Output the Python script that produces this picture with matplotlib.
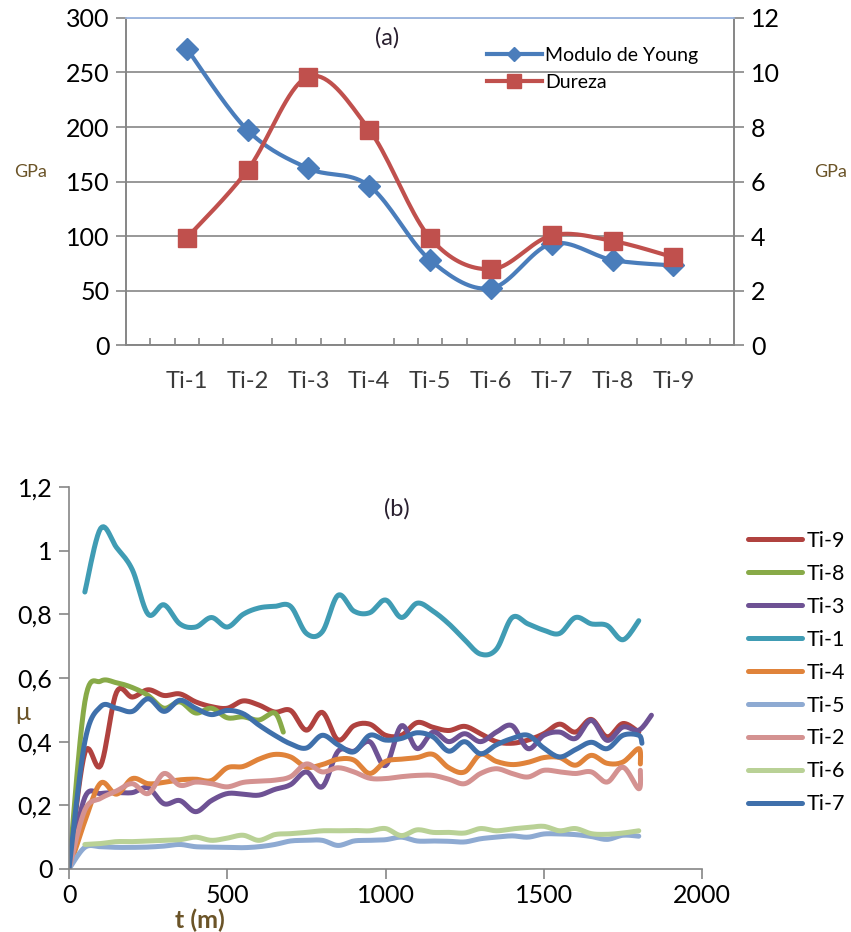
import matplotlib
matplotlib.use('Agg')
import matplotlib.pyplot as plt
import numpy as np

plt.rcParams['font.family'] = ['Lato', 'DejaVu Sans']

# --- (a) elastic modulus and hardness per sample ---
samples = ['Ti-1', 'Ti-2', 'Ti-3', 'Ti-4', 'Ti-5', 'Ti-6', 'Ti-7', 'Ti-8', 'Ti-9']
young = [272, 197, 162, 146, 78, 52, 93, 78, 73]
dureza = [3.93, 6.42, 9.85, 7.9, 3.93, 2.78, 4.02, 3.82, 3.22]

# --- (b) friction coefficient vs time ---
t_std = [0, 50, 100, 150, 200, 250, 300, 350, 400, 450, 500, 550, 600, 650, 700,
         750, 800, 850, 900, 950, 1000, 1050, 1100, 1150, 1200, 1250, 1300, 1350,
         1400, 1450, 1500, 1550, 1600, 1650, 1700, 1750, 1800]

mu_ti9 = [0, 0.365, 0.325, 0.555, 0.54, 0.563, 0.545, 0.55, 0.525, 0.51, 0.505,
          0.528, 0.515, 0.493, 0.498, 0.436, 0.492, 0.405, 0.45, 0.455, 0.42,
          0.42, 0.46, 0.445, 0.435, 0.448, 0.425, 0.40, 0.395, 0.405, 0.425,
          0.455, 0.43, 0.47, 0.415, 0.457, 0.43]

t_ti8 = [0, 50, 100, 150, 200, 250, 300, 350, 400, 450, 500, 550, 600, 650, 677]
mu_ti8 = [0, 0.525, 0.59, 0.585, 0.57, 0.545, 0.505, 0.525, 0.49, 0.505, 0.475,
          0.478, 0.468, 0.49, 0.43]

t_ti3 = t_std + [1840]
mu_ti3 = [0, 0.225, 0.237, 0.24, 0.24, 0.255, 0.205, 0.215, 0.18, 0.215, 0.237,
          0.235, 0.232, 0.25, 0.265, 0.305, 0.258, 0.37, 0.37, 0.40, 0.325,
          0.45, 0.378, 0.43, 0.40, 0.425, 0.40, 0.43, 0.45, 0.378, 0.42, 0.43,
          0.41, 0.467, 0.404, 0.446, 0.436, 0.483]

t_ti1 = t_std[1:]
mu_ti1 = [0.87, 1.07, 1.01, 0.94, 0.80, 0.83, 0.77, 0.76, 0.79, 0.76, 0.80,
          0.82, 0.825, 0.825, 0.74, 0.745, 0.86, 0.81, 0.805, 0.845, 0.79,
          0.835, 0.81, 0.77, 0.72, 0.675, 0.69, 0.79, 0.77, 0.75, 0.74, 0.79,
          0.77, 0.765, 0.72, 0.78]

t_ti4 = t_std + [1805]
mu_ti4 = [0, 0.15, 0.27, 0.235, 0.284, 0.268, 0.272, 0.28, 0.282, 0.278, 0.318,
          0.322, 0.345, 0.36, 0.352, 0.32, 0.328, 0.345, 0.342, 0.30, 0.338,
          0.345, 0.35, 0.36, 0.318, 0.305, 0.36, 0.338, 0.328, 0.335, 0.35,
          0.35, 0.326, 0.357, 0.332, 0.336, 0.378, 0.33]

mu_ti5 = [0, 0.068, 0.07, 0.068, 0.068, 0.069, 0.072, 0.077, 0.07, 0.069, 0.068,
          0.067, 0.07, 0.077, 0.088, 0.09, 0.09, 0.074, 0.088, 0.09, 0.092,
          0.10, 0.088, 0.088, 0.087, 0.085, 0.095, 0.10, 0.104, 0.10, 0.11,
          0.11, 0.108, 0.102, 0.093, 0.106, 0.103]

t_ti2 = t_std + [1805]
mu_ti2 = [0, 0.185, 0.222, 0.245, 0.268, 0.237, 0.30, 0.263, 0.273, 0.268, 0.258,
          0.272, 0.276, 0.279, 0.29, 0.33, 0.305, 0.318, 0.305, 0.285, 0.284,
          0.29, 0.294, 0.294, 0.282, 0.268, 0.30, 0.315, 0.30, 0.289, 0.31,
          0.305, 0.30, 0.305, 0.273, 0.32, 0.252, 0.31]

t_ti6 = t_std[1:]
mu_ti6 = [0.077, 0.08, 0.086, 0.086, 0.088, 0.09, 0.092, 0.10, 0.09, 0.097,
          0.106, 0.09, 0.108, 0.111, 0.115, 0.12, 0.12, 0.121, 0.12, 0.127,
          0.105, 0.123, 0.115, 0.115, 0.113, 0.127, 0.12, 0.126, 0.13, 0.134,
          0.12, 0.127, 0.111, 0.109, 0.113, 0.12]

t_ti7 = t_std + [1810]
mu_ti7 = [0, 0.40, 0.51, 0.505, 0.495, 0.535, 0.495, 0.53, 0.505, 0.485, 0.498,
          0.488, 0.452, 0.42, 0.393, 0.38, 0.42, 0.39, 0.368, 0.42, 0.405,
          0.41, 0.428, 0.415, 0.37, 0.40, 0.362, 0.39, 0.41, 0.42, 0.38, 0.352,
          0.375, 0.398, 0.378, 0.42, 0.42, 0.395]

series_b = [
    ('Ti-9', t_std, mu_ti9, '#b0423f'),
    ('Ti-8', t_ti8, mu_ti8, '#88aa48'),
    ('Ti-3', t_ti3, mu_ti3, '#6e5294'),
    ('Ti-1', t_ti1, mu_ti1, '#409cb4'),
    ('Ti-4', t_ti4, mu_ti4, '#e0833a'),
    ('Ti-5', t_std, mu_ti5, '#8eaad2'),
    ('Ti-2', t_ti2, mu_ti2, '#d49291'),
    ('Ti-6', t_ti6, mu_ti6, '#b9d196'),
    ('Ti-7', t_ti7, mu_ti7, '#3f70ab'),
]


def smooth(x, y, n=20):
    # bezier smoothing through the points (like spreadsheet "smoothed line")
    x = np.asarray(x, float)
    y = np.asarray(y, float)
    px = np.concatenate([[x[0]], x, [x[-1]]])
    py = np.concatenate([[y[0]], y, [y[-1]]])
    xs, ys = [x[0]], [y[0]]
    s = np.linspace(0, 1, n)[1:]
    for i in range(1, len(px) - 2):
        x0, x1, x2, x3 = px[i - 1], px[i], px[i + 1], px[i + 2]
        y0, y1, y2, y3 = py[i - 1], py[i], py[i + 1], py[i + 2]
        c1x, c1y = x1 + (x2 - x0) / 6, y1 + (y2 - y0) / 6
        c2x, c2y = x2 - (x3 - x1) / 6, y2 - (y3 - y1) / 6
        bx = (1 - s) ** 3 * x1 + 3 * (1 - s) ** 2 * s * c1x + 3 * (1 - s) * s ** 2 * c2x + s ** 3 * x2
        by = (1 - s) ** 3 * y1 + 3 * (1 - s) ** 2 * s * c1y + 3 * (1 - s) * s ** 2 * c2y + s ** 3 * y2
        xs.extend(bx)
        ys.extend(by)
    return np.array(xs), np.array(ys)


fig = plt.figure(figsize=(8.51, 9.32), dpi=100)
grey = '#868686'
label_col = '#6b5428'

# ---------------- (a) ----------------
ax = fig.add_axes([0.148, 0.6298, 0.7147, 0.3509])
ax2 = ax.twinx()
xpos = np.arange(1, len(samples) + 1)

ax.set_xlim(0, 10)
ax.set_ylim(0, 300)
ax2.set_ylim(0, 12)
ax.set_yticks(range(0, 301, 50))
ax2.set_yticks(range(0, 13, 2))
ax.yaxis.grid(True, color=grey, lw=1.2)
ax.set_axisbelow(True)

for a in (ax, ax2):
    for s in a.spines.values():
        s.set_color(grey)
        s.set_linewidth(1.2)
    a.spines['top'].set_color('#9fb8e0')
ax.tick_params(axis='y', length=7, width=1.2, color=grey, labelsize=18, pad=5)
ax2.tick_params(axis='y', length=7, width=1.2, color=grey, labelsize=18, pad=5)
ax.set_xticks(xpos)
ax.set_xticklabels(samples, fontsize=17, color='#3a3a3a')
ax.set_xticks(np.arange(0.4, 10.0, 0.4), minor=True)
ax.tick_params(axis='x', which='major', length=0, pad=19)
ax.tick_params(axis='x', which='minor', direction='in', length=5, width=1.2, color=grey)

xs, ys = smooth(xpos, young)
ax.plot(xs, ys, color='#4a7dbb', lw=3, solid_capstyle='round')
ax.plot(xpos, young, ls='none', marker='D', ms=11, color='#4a7dbb')
xs, ys = smooth(xpos, dureza)
ax2.plot(xs, ys, color='#c0504d', lw=3, solid_capstyle='round')
ax2.plot(xpos, dureza, ls='none', marker='s', ms=13, color='#c0504d')

h1 = plt.Line2D([], [], color='#4a7dbb', lw=3, marker='D', ms=7)
h2 = plt.Line2D([], [], color='#c0504d', lw=3, marker='s', ms=10)
ax2.legend([h1, h2], ['Modulo de Young', 'Dureza'], loc='upper left',
           bbox_to_anchor=(0.581, 0.935), frameon=False, fontsize=14,
           handlelength=2.8, handletextpad=0.2, labelspacing=0.5, borderaxespad=0)

ax.text(4.3, 282, '(a)', fontsize=17, color='#2a2030', ha='center', va='center')
fig.text(31 / 851, 1 - 172 / 932, 'GPa', fontsize=13, color=label_col, ha='center', va='center')
fig.text(831 / 851, 1 - 172 / 932, 'GPa', fontsize=13, color=label_col, ha='center', va='center')

# ---------------- (b) ----------------
bx = fig.add_axes([0.0811, 0.0676, 0.7439, 0.4099])
for name, t, mu, col in series_b:
    xs, ys = smooth(t, mu, 12)
    bx.plot(xs, ys, color=col, lw=3.6, label=name, solid_capstyle='round')

bx.set_xlim(0, 2000)
bx.set_ylim(0, 1.2)
bx.set_xticks([0, 500, 1000, 1500, 2000])
yt = [0, 0.2, 0.4, 0.6, 0.8, 1.0, 1.2]
bx.set_yticks(yt)
bx.set_yticklabels(['0', '0,2', '0,4', '0,6', '0,8', '1', '1,2'])
for side in ('top', 'right'):
    bx.spines[side].set_visible(False)
for side in ('left', 'bottom'):
    bx.spines[side].set_color(grey)
    bx.spines[side].set_linewidth(1.2)
bx.tick_params(length=7, width=1.2, color=grey, labelsize=18)
bx.tick_params(axis='x', pad=4)
bx.tick_params(axis='y', pad=5)

bx.text(1035, 1.13, '(b)', fontsize=17, color='#2a2030', ha='center', va='center')
fig.text(23 / 851, 1 - 712 / 932, 'μ', fontsize=18, color=label_col, ha='center', va='center')
fig.text(200 / 851, 1 - 920 / 932, 't (m)', fontsize=18, fontweight='bold', color=label_col,
         ha='center', va='center')

fig.legend(loc='upper left', bbox_to_anchor=(748 / 851, 1 - 531 / 932), frameon=False,
           fontsize=15.5, handlelength=2.5, handletextpad=0.22, labelspacing=0.6,
           borderpad=0, borderaxespad=0)

plt.savefig('out.png', dpi=100)
